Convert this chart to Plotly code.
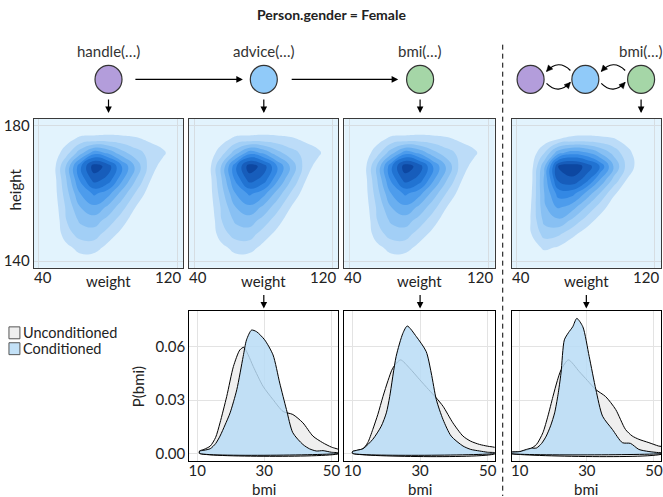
import plotly.graph_objects as go

W, H = 663, 497

# ---------------- data ----------------
weight_grid = [40, 48, 56, 64, 72, 80, 88, 96, 104, 112, 120]
height_grid = [140, 144, 148, 152, 156, 160, 164, 168, 172, 176, 180]

# joint density (relative, 0-100) of weight x height, rows = height_grid
dens_chain = [
    [0, 0, 1, 5, 4, 1, 0, 0, 0, 0, 0],
    [0, 0, 7, 14, 14, 7, 1, 0, 0, 0, 0],
    [0, 0, 16, 24, 25, 15, 7, 0, 0, 0, 0],
    [0, 0, 20, 32, 35, 26, 14, 4, 0, 0, 0],
    [0, 2, 22, 40, 48, 38, 24, 10, 1, 0, 0],
    [0, 3, 26, 50, 62, 54, 36, 19, 5, 0, 0],
    [0, 3, 30, 62, 84, 76, 52, 30, 11, 1, 0],
    [0, 4, 32, 68, 96, 86, 60, 38, 16, 5, 0],
    [0, 3, 16, 36, 56, 48, 34, 24, 17, 12, 1],
    [0, 0, 6, 13, 14, 15, 14, 12, 8, 4, 0],
    [0, 0, 0, 0, 0, 0, 0, 0, 0, 0, 0],
]
dens_cycle = [
    [0, 0, 2, 1, 0, 0, 0, 0, 0, 0, 0],
    [0, 4, 12, 9, 3, 0, 0, 0, 0, 0, 0],
    [0, 9, 24, 22, 13, 5, 0, 0, 0, 0, 0],
    [0, 10, 33, 38, 28, 16, 6, 0, 0, 0, 0],
    [0, 9, 38, 52, 45, 30, 16, 4, 0, 0, 0],
    [0, 7, 40, 64, 64, 48, 30, 12, 2, 0, 0],
    [0, 5, 42, 82, 88, 75, 50, 27, 9, 1, 0],
    [0, 4, 38, 90, 96, 88, 70, 40, 16, 4, 0],
    [0, 2, 20, 46, 56, 52, 40, 27, 13, 4, 0],
    [0, 0, 4, 10, 13, 14, 13, 11, 6, 1, 0],
    [0, 0, 0, 0, 0, 0, 0, 0, 0, 0, 0],
]

# P(bmi) curves: advice panel
bmi_u1 = [10.7, 12, 13.9, 15.5, 16.8, 18.8, 20.8, 22.7, 23.9, 25.2, 26.7, 29.6, 32.6, 35.6, 38.5, 41.5, 44.5, 47.4, 50, 52.5]
p_u1 = [0.0013, 0.0022, 0.0041, 0.009, 0.0172, 0.0321, 0.049, 0.0583, 0.0598, 0.0555, 0.049, 0.0379, 0.0303, 0.0236, 0.0219, 0.0172, 0.0097, 0.006, 0.0035, 0.0018]
bmi_c1 = [10.7, 12, 13.9, 15.5, 16.8, 18.3, 19.8, 21.8, 23.7, 24.7, 26.2, 27.7, 30.1, 32.6, 34.6, 36.6, 38.5, 41.5, 43.5, 45.5, 47.5, 50, 52.5]
p_c1 = [0.0012, 0.0017, 0.0026, 0.0055, 0.0097, 0.016, 0.0228, 0.0359, 0.0546, 0.064, 0.0695, 0.0686, 0.064, 0.0555, 0.0396, 0.0247, 0.0116, 0.005, 0.0025, 0.0013, 0.0015, 0.0006, 0.0002]
# bmi panel
bmi_u2 = [10, 11.5, 13.1, 14.5, 16, 17.5, 19, 20.5, 21.9, 24.2, 26.9, 29.9, 32.5, 34.8, 36.8, 39.7, 42.7, 45, 47.6, 50, 52.5]
p_u2 = [0.001, 0.0017, 0.0026, 0.006, 0.0135, 0.022, 0.032, 0.041, 0.048, 0.0527, 0.048, 0.0415, 0.036, 0.0312, 0.0265, 0.0172, 0.0097, 0.0068, 0.005, 0.004, 0.003]
bmi_c2 = [10, 11.5, 13.1, 16, 18.5, 20, 21, 22.9, 24.9, 26.2, 28.9, 31.8, 33.3, 34.8, 36.8, 39.2, 42.7, 45, 47.6, 50, 52.5]
p_c2 = [0.001, 0.0018, 0.0026, 0.0079, 0.0153, 0.0228, 0.032, 0.0546, 0.0677, 0.0718, 0.0658, 0.0574, 0.0453, 0.0303, 0.019, 0.0097, 0.0041, 0.0022, 0.0013, 0.0006, 0.0003]
# cyclic panel
bmi_u3 = [7, 10, 13, 15, 16.9, 18.4, 19.9, 21.2, 22.3, 24.5, 27.7, 30.2, 32.7, 35.6, 38.6, 41.5, 43.5, 45.5, 48.5, 51.4, 53]
p_u3 = [0.0005, 0.0009, 0.0024, 0.005, 0.0116, 0.021, 0.032, 0.041, 0.047, 0.0527, 0.0462, 0.041, 0.0359, 0.032, 0.0247, 0.0135, 0.0098, 0.0079, 0.006, 0.0041, 0.0035]
bmi_c3 = [7, 10, 12, 13.5, 15, 16.5, 17.9, 19.2, 20.4, 21.4, 22.3, 23.3, 24.5, 25.8, 27, 28.8, 30.7, 32.7, 34.7, 37.6, 40.6, 43, 45.5, 48.5, 51.4, 53]
p_c3 = [0.0005, 0.001, 0.0022, 0.0029, 0.003, 0.0055, 0.0097, 0.0155, 0.0228, 0.033, 0.0453, 0.064, 0.068, 0.0714, 0.0761, 0.0714, 0.0546, 0.0359, 0.0209, 0.0135, 0.006, 0.0056, 0.0022, 0.001, 0.0004, 0.0002]

contour_xticks = [40, 120]
contour_yticks = [140, 180]
bmi_ticks = [10, 30, 50]
p_ticks = [0, 0.03, 0.06]
p_ticktext = ["0.00", "0.03", "0.06"]
node_labels = ["handle(…)", "advice(…)", "bmi(…)"]
legend_labels = ["Unconditioned", "Conditioned"]
title = "Person.gender = Female"

# ---------------- styling / layout ----------------
FONT = "Lato"
TXT = "#222222"
BLUE_BG = "#e2f3fd"
UNC_FILL = "#efefef"
CON_FILL = "rgba(184,220,246,0.85)"
contour_colors = ["rgba(226,243,253,0)", "#bcdcf8", "#a2cff6", "#88c0f3", "#6aaff0",
                  "#4d9cec", "#3388e4", "#2173d2", "#175dbb", "#0d47a1"]
cscale = [[k / 9, c] for k, c in enumerate(contour_colors)]

contour_px = [(33, 183), (189, 339), (345, 496), (513, 663)]
contour_py = (117, 267)
dens_px = [(189, 339), (345, 496), (513, 663)]
dens_py = (311, 462)
XR_C = [37.1, 123.5]
YR_C = [138, 182]
XR_D = [7.6, 52.1]
YR_D = [-0.0045, 0.080]


def PX(x):
    return x / W


def PY(y):
    return 1 - y / H


fig = go.Figure()
layout = dict(width=W, height=H, margin=dict(l=0, r=0, t=0, b=0),
              paper_bgcolor="white", plot_bgcolor="white", showlegend=False,
              font=dict(family=FONT, size=15, color=TXT))


def axname(n, kind):
    return kind + "axis" + ("" if n == 1 else str(n))


def ref(n, kind):
    return kind + ("" if n == 1 else str(n))


shapes = []
annotations = []


def label(x, y, text, size=15, color=TXT, angle=0, xanchor="center"):
    annotations.append(dict(x=PX(x), y=PY(y), xref="paper", yref="paper", text=text, textangle=angle,
                            showarrow=False, xanchor=xanchor, yanchor="middle", borderpad=0,
                            font=dict(size=size, color=color)))


# contour panels
for i in range(4):
    n = i + 1
    x0, x1 = contour_px[i]
    layout[axname(n, "x")] = dict(domain=[PX(x0), PX(x1)], anchor=ref(n, "y"), range=XR_C,
                                  tickvals=contour_xticks, showticklabels=False, ticks="",
                                  showgrid=True, gridcolor="#d6dde2", gridwidth=1, zeroline=False,
                                  showline=True, mirror=True, linecolor="#3a3a3a", linewidth=1.2)
    layout[axname(n, "y")] = dict(domain=[PY(contour_py[1]), PY(contour_py[0])], anchor=ref(n, "x"),
                                  range=YR_C, tickvals=contour_yticks, showticklabels=(n == 1),
                                  ticks="", showgrid=True, gridcolor="#d6dde2", gridwidth=1,
                                  zeroline=False, showline=True, mirror=True, linecolor="#3a3a3a",
                                  linewidth=1.2, tickfont=dict(size=15, color=TXT))
    z = dens_cycle if n == 4 else dens_chain
    fig.add_trace(go.Contour(x=weight_grid, y=height_grid, z=z, xaxis=ref(n, "x"), yaxis=ref(n, "y"),
                             autocontour=False, contours=dict(start=10, end=90, size=10, coloring="fill",
                                                              showlines=False),
                             line=dict(width=0, smoothing=1.3), colorscale=cscale, showscale=False,
                             hoverinfo="skip"))
    shapes.append(dict(type="rect", xref=ref(n, "x") + " domain", yref=ref(n, "y") + " domain",
                       x0=0, x1=1, y0=0, y1=1, fillcolor=BLUE_BG, line=dict(width=0), layer="below"))
    # x tick labels (inset at panel edges)
    for j, t in enumerate(contour_xticks):
        annotations.append(dict(x=t, xref=ref(n, "x"), y=PY(276), yref="paper", text=str(t),
                                showarrow=False, xanchor="left" if j == 0 else "right",
                                xshift=-7 if j == 0 else 6, yanchor="middle",
                                font=dict(size=15, color=TXT)))
    label((x0 + x1) / 2, 280, "weight")

label(15, 188, "height", angle=-90)

# density panels
dens_data = [(bmi_u1, p_u1, bmi_c1, p_c1), (bmi_u2, p_u2, bmi_c2, p_c2), (bmi_u3, p_u3, bmi_c3, p_c3)]
for i in range(3):
    n = i + 5
    x0, x1 = dens_px[i]
    layout[axname(n, "x")] = dict(domain=[PX(x0), PX(x1)], anchor=ref(n, "y"), range=XR_D,
                                  tickvals=bmi_ticks, ticks="", showgrid=True, gridcolor="#e3e3e3",
                                  zeroline=False, showline=True, mirror=True, linecolor="black",
                                  linewidth=1, tickfont=dict(size=15, color=TXT),
                                  ticklabelstandoff=-4)
    layout[axname(n, "y")] = dict(domain=[PY(dens_py[1]), PY(dens_py[0])], anchor=ref(n, "x"),
                                  range=YR_D, tickvals=p_ticks, ticktext=p_ticktext,
                                  showticklabels=(n == 5), ticks="", showgrid=True, gridcolor="#e3e3e3",
                                  zeroline=False, showline=True, mirror=True, linecolor="black",
                                  linewidth=1, tickfont=dict(size=15, color=TXT))
    bu, pu, bc, pc = dens_data[i]
    for bx, py_, fc in ((bu, pu, UNC_FILL), (bc, pc, CON_FILL)):
        xs = [bx[0]] + bx + [bx[-1], bx[0]]
        ys = [0] + py_ + [0, 0]
        fig.add_trace(go.Scatter(x=xs, y=ys, mode="lines", fill="toself", fillcolor=fc,
                                 line=dict(color="black", width=1, shape="spline", smoothing=0.7),
                                 xaxis=ref(n, "x"), yaxis=ref(n, "y"), hoverinfo="skip"))
    label((x0 + x1) / 2, 490, "bmi")

label(138, 387, "P(bmi)", angle=-90)

# title
label(332, 12, "<b>" + title + "</b>", size=14)

# node labels
for lab, cx in zip(node_labels + ["bmi(…)"], [108, 264, 421, 643]):
    label(cx, 48, lab, color="#333333")

# nodes
node_cols = {"p": "#b39ddb", "b": "#90caf9", "g": "#a5d6a7"}
for cx, c in [(108, "p"), (264, "b"), (421, "g"), (532, "p"), (587, "b"), (643, "g")]:
    shapes.append(dict(type="circle", xref="paper", yref="paper", xsizemode="pixel", ysizemode="pixel",
                       xanchor=PX(cx), yanchor=PY(77), x0=-13.5, x1=13.5, y0=-14, y1=14,
                       fillcolor=node_cols[c], line=dict(color="#333333", width=1.2)))


def arrow(hx, hy, tx, ty):
    annotations.append(dict(x=PX(hx), y=PY(hy), xref="paper", yref="paper", ax=tx - hx, ay=ty - hy,
                            axref="pixel", ayref="pixel", text="", showarrow=True, arrowhead=2,
                            arrowsize=1.1, arrowwidth=1.2, arrowcolor="black", standoff=0))


arrow(243, 77, 134, 77)
arrow(399, 77, 291, 77)
for cx in [108, 264, 421, 643]:
    arrow(cx, 111, cx, 96)
for cx in [264, 421, 588]:
    arrow(cx, 308, cx, 293)


# curved arrows (cycle)
def curved(p0, c, p1):
    shapes.append(dict(type="path", xref="paper", yref="paper",
                       path=f"M {PX(p0[0])},{PY(p0[1])} Q {PX(c[0])},{PY(c[1])} {PX(p1[0])},{PY(p1[1])}",
                       line=dict(color="black", width=1.2)))
    dx, dy = p1[0] - c[0], p1[1] - c[1]
    L = (dx * dx + dy * dy) ** 0.5
    ux, uy = dx / L, dy / L
    nx, ny = -uy, ux
    bx, by = p1[0] - 6 * ux, p1[1] - 6 * uy
    pts = [(p1[0], p1[1]), (bx + 3 * nx, by + 3 * ny), (bx - 3 * nx, by - 3 * ny)]
    path = "M " + " L ".join(f"{PX(a)},{PY(b)}" for a, b in pts) + " Z"
    shapes.append(dict(type="path", xref="paper", yref="paper", path=path, fillcolor="black",
                       line=dict(color="black", width=0.5)))


curved((572, 68), (560, 56), (548, 69))
curved((548, 81), (560, 93), (572, 80))
curved((627, 68), (615, 56), (603, 69))
curved((603, 81), (615, 93), (627, 80))

# dashed separator
shapes.append(dict(type="line", xref="paper", yref="paper", x0=PX(504), x1=PX(504), y0=PY(42), y1=PY(497),
                   line=dict(color="black", width=1, dash="5px,4px")))

# legend
for lab, fc, cy in [(legend_labels[0], UNC_FILL, 332.5), (legend_labels[1], "#c3e1f7", 348.5)]:
    shapes.append(dict(type="rect", xref="paper", yref="paper", x0=PX(8), x1=PX(19), y0=PY(cy + 6),
                       y1=PY(cy - 6), fillcolor=fc, line=dict(color="#555555", width=1)))
    label(21, cy, lab, size=14.5, xanchor="left")

layout["shapes"] = shapes
layout["annotations"] = annotations
fig.update_layout(**layout)
fig.write_html("out.html", config={"displayModeBar": False},
               post_script="document.body.style.margin='0';document.body.style.overflow='hidden';")
